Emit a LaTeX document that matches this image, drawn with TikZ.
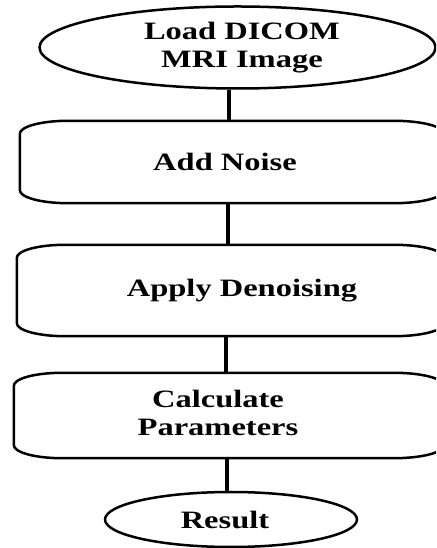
\documentclass[tikz,border=0pt]{standalone}
\usepackage{fontspec}
\setmainfont{Liberation Serif}[FakeStretch=1.3]
\usetikzlibrary{shapes.geometric}
\tikzset{
  lbl/.style={font=\fontsize{25}{28}\selectfont\bfseries, text=black, inner sep=0pt},
  oval/.style={lbl, ellipse, draw, line width=2.5pt},
  flat/.style={lbl, rectangle, draw=none},
  outline/.style={line width=2.5pt},
  conn/.style={line width=3.4pt},
}
\newcommand\flatoutline[1]{%
  \draw[outline] ([xshift=48pt]#1.north west) -- ([xshift=-50pt]#1.north east)
    arc[start angle=90,end angle=0,x radius=50pt,y radius=13pt]
    -- ([yshift=13pt]#1.south east)
    arc[start angle=0,end angle=-90,x radius=50pt,y radius=13pt]
    -- ([xshift=48pt]#1.south west)
    arc[start angle=270,end angle=180,x radius=48pt,y radius=13pt]
    -- ([yshift=-13pt]#1.north west)
    arc[start angle=180,end angle=90,x radius=48pt,y radius=13pt] -- cycle;}
\begin{document}
\begin{tikzpicture}[x=1pt,y=1pt]
  \useasboundingbox (0,0) rectangle (436,548);
  \clip (0,0) rectangle (436,548);
  \node[oval, minimum width=396pt, minimum height=82pt] (e1) at (237.5,500.5)
    {\hspace*{9pt}\begin{tabular}{@{}c@{}}Load DICOM\\MRI Image\end{tabular}};
  \node[flat, minimum width=424pt, minimum height=82pt] (b1) at (232,386)
    {\hspace*{-14pt}Add Noise};
  \node[flat, minimum width=427pt, minimum height=91pt] (b2) at (230.5,257.5)
    {\hspace*{23pt}Apply Denoising};
  \node[flat, minimum width=430pt, minimum height=85pt] (b3) at (229,132.5)
    {\hspace*{-22pt}\begin{tabular}{@{}c@{}}Calculate\\Parameters\end{tabular}};
  \node[oval, minimum width=252pt, minimum height=55pt] (e2) at (231,28.5)
    {\hspace*{-12pt}Result};
  \flatoutline{b1}
  \flatoutline{b2}
  \flatoutline{b3}
  \draw[conn] ([xshift=-8.5pt]e1.south) -- ([xshift=-3pt]b1.north);
  \draw[conn] ([xshift=-4pt]b1.south) -- ([xshift=-2.5pt]b2.north);
  \draw[conn] ([xshift=-4.5pt]b2.south) -- ([xshift=-3pt]b3.north);
  \draw[conn] ([xshift=-2pt]b3.south) -- ([xshift=-4pt]e2.north);
\end{tikzpicture}
\end{document}
